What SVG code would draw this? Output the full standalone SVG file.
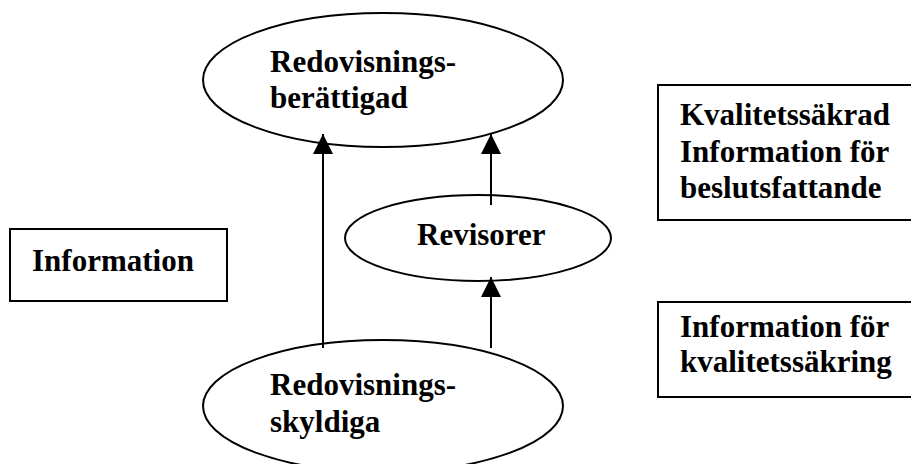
<svg xmlns="http://www.w3.org/2000/svg" width="911" height="464" viewBox="0 0 911 464">
  <style>
    .shape { fill: #ffffff; stroke: #000000; stroke-width: 2; }
    .label { font-family: "Liberation Serif", "Times New Roman", serif; font-weight: bold; font-size: 31px; fill: #000000; }
    .edge { stroke: #000000; stroke-width: 2; fill: none; marker-end: url(#arrow); }
  </style>
  <defs>
    <marker id="arrow" viewBox="0 0 20 20" refX="20" refY="10" markerWidth="20" markerHeight="20" markerUnits="userSpaceOnUse" orient="auto">
      <path d="M0,0 L20,10 L0,20 Z" fill="#000000"/>
    </marker>
  </defs>
  <rect width="911" height="464" fill="#ffffff"/>

  <g id="redovisningsberattigad">
    <ellipse class="shape" cx="383" cy="80" rx="180" ry="67"/>
    <text class="label" x="270" y="72">Redovisnings-</text>
    <text class="label" x="270" y="108">berättigad</text>
  </g>

  <g id="revisorer">
    <ellipse class="shape" cx="478" cy="238" rx="133" ry="43"/>
    <text class="label" x="417" y="245">Revisorer</text>
  </g>

  <g id="redovisningsskyldiga">
    <ellipse class="shape" cx="383" cy="406" rx="180" ry="66"/>
    <text class="label" x="270" y="395">Redovisnings-</text>
    <text class="label" x="270" y="432">skyldiga</text>
  </g>

  <g id="information">
    <rect class="shape" x="10" y="229" width="217" height="72"/>
    <text class="label" x="32" y="271">Information</text>
  </g>

  <g id="kvalitetssakrad-information">
    <rect class="shape" x="658" y="85" width="260" height="135"/>
    <text class="label" x="680" y="125">Kvalitetssäkrad</text>
    <text class="label" x="680" y="162">Information för</text>
    <text class="label" x="680" y="198">beslutsfattande</text>
  </g>

  <g id="information-kvalitetssakring">
    <rect class="shape" x="658" y="302" width="260" height="95"/>
    <text class="label" x="680" y="337">Information för</text>
    <text class="label" x="680" y="372">kvalitetssäkring</text>
  </g>

  <g id="connectors">
    <path class="edge" d="M323,348 L323,134"/>
    <path class="edge" d="M491,205 L491,134"/>
    <path class="edge" d="M491,348 L491,277"/>
  </g>
</svg>
